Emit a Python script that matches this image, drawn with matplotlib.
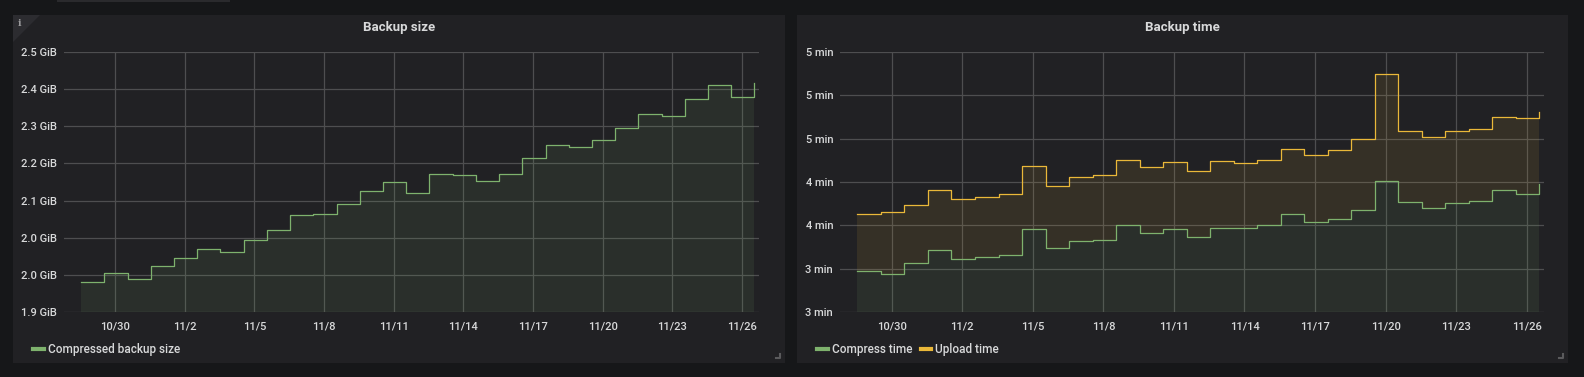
import math
import matplotlib
matplotlib.use("Agg")
import matplotlib.pyplot as plt
import matplotlib.dates as mdates
import pandas as pd
from matplotlib.lines import Line2D
from matplotlib.patches import Rectangle, Polygon
from matplotlib.ticker import FuncFormatter, FixedLocator

# one backup per day, around midday
days = pd.date_range("2018-10-28 13:00", periods=30, freq="D")

# compressed backup size in bytes (1e9)
size_gb = [2.080, 2.104, 2.089, 2.123, 2.145, 2.169, 2.162, 2.193, 2.222, 2.262,
           2.265, 2.291, 2.326, 2.349, 2.320, 2.371, 2.368, 2.353, 2.372, 2.415,
           2.450, 2.443, 2.464, 2.495, 2.533, 2.529, 2.573, 2.610, 2.580, 2.617]

# times in seconds
compress_s = [198.5, 196.7, 203.3, 210.6, 205.4, 206.7, 208.1, 223.1, 211.7, 216.0,
              216.5, 225.0, 220.4, 222.7, 218.3, 223.6, 223.3, 225.0, 231.4, 226.9,
              228.8, 233.9, 250.6, 238.5, 234.8, 237.7, 239.2, 245.6, 243.1, 248.7]
upload_s = [231.5, 232.9, 236.6, 245.4, 240.0, 241.4, 243.1, 259.4, 247.7, 252.9,
            254.2, 262.5, 258.7, 261.7, 256.4, 262.3, 261.0, 262.5, 269.2, 265.6,
            268.3, 275.0, 312.5, 279.4, 276.2, 279.2, 280.4, 287.5, 286.9, 290.2]

size_ticks = [2.0e9, 2.1e9, 2.2e9, 2.3e9, 2.4e9, 2.5e9, 2.6e9, 2.7e9]
time_ticks = [175, 200, 225, 250, 275, 300, 325]
date_ticks = pd.date_range("2018-10-30", "2018-11-26", freq="3D")

W, H = 1584, 377
bg = "#161719"
panel = "#212124"
grid = "#4e4e50"
txt = "#d8d9da"
green = "#7EB26D"
orange = "#EAB839"

plt.rcParams["font.family"] = ["Roboto", "DejaVu Sans"]
plt.rcParams["font.weight"] = 500

fig = plt.figure(figsize=(W / 100, H / 100), dpi=100, facecolor=bg)


def px(x0, y0, x1, y1):
    return [x0 / W, 1 - y1 / H, (x1 - x0) / W, (y1 - y0) / H]


# panels
for (x0, x1) in [(13, 785), (797, 1568)]:
    r = px(x0, 15, x1, 363)
    fig.patches.append(Rectangle((r[0], r[1]), r[2], r[3], transform=fig.transFigure,
                                 facecolor=panel, edgecolor="none", zorder=-10))
    # resize handle
    hx, hy = (x1 - 5) / W, 1 - (363 - 5) / H
    fig.lines.append(Line2D([hx - 4 / W, hx, hx], [hy, hy, hy + 4 / H],
                            transform=fig.transFigure, color="#5a5a5c", lw=1.5))
fig.patches.append(Rectangle((57 / W, 1 - 2 / H), 173 / W, 2 / H, transform=fig.transFigure,
                             facecolor="#2a2a2d", edgecolor="none", zorder=-10))
# info corner
fig.patches.append(Polygon([(13 / W, 1 - 15 / H), (40 / W, 1 - 15 / H), (13 / W, 1 - 42 / H)],
                           closed=True, transform=fig.transFigure, facecolor="#2c2c30",
                           edgecolor="none", zorder=-5))
fig.text(20 / W, 1 - 24 / H, "i", color="#9a9a9c", fontsize=7, fontweight="bold",
         ha="center", va="center", family="DejaVu Serif")

fig.text(399 / W, 1 - 28 / H, "Backup size", color=txt, fontsize=9.5, fontweight="bold",
         ha="center", va="center")
fig.text(1182.5 / W, 1 - 28 / H, "Backup time", color=txt, fontsize=9.5, fontweight="bold",
         ha="center", va="center")

ax1 = fig.add_axes(px(64, 52, 759, 312))
ax2 = fig.add_axes(px(840, 52, 1544, 312))

xmin = pd.Timestamp("2018-10-27 19:15")
xmax = pd.Timestamp("2018-11-26 17:40")

for ax in (ax1, ax2):
    ax.set_facecolor(panel)
    for s in ax.spines.values():
        s.set_visible(False)
    ax.grid(True, color=grid, lw=0.9)
    ax.set_axisbelow(True)
    ax.tick_params(length=0, colors=txt, labelsize=8)
    ax.tick_params(axis="x", pad=7)
    ax.tick_params(axis="y", pad=5)
    ax.xaxis.set_major_locator(FixedLocator(mdates.date2num(date_ticks)))
    ax.xaxis.set_major_formatter(mdates.DateFormatter("%-m/%-d"))
    ax.set_xlim(xmin, xmax)

# size panel
size_bytes = [v * 1e9 for v in size_gb]
ax1.fill_between(days, size_bytes, 0, step="post", color=green, alpha=0.1, lw=0)
ax1.step(days, size_bytes, where="post", color=green, lw=0.9)
ax1.set_ylim(size_ticks[0], size_ticks[-1])
ax1.yaxis.set_major_locator(FixedLocator(size_ticks))
ax1.yaxis.set_major_formatter(FuncFormatter(lambda v, p: f"{v / 2**30:.1f} GiB"))
ax1.legend(handles=[Line2D([], [], color=green, lw=3)], labels=["Compressed backup size"],
           loc="center left", bbox_to_anchor=(33 / W, 1 - 350 / H), bbox_transform=fig.transFigure,
           frameon=False, borderaxespad=0, borderpad=0, handlelength=0.9, handletextpad=0.35,
           fontsize=8.5, labelcolor=txt)

# time panel
ax2.fill_between(days, compress_s, upload_s, step="post", color=orange, alpha=0.1, lw=0)
ax2.fill_between(days, compress_s, 0, step="post", color=green, alpha=0.1, lw=0)
ax2.step(days, compress_s, where="post", color=green, lw=0.9)
ax2.step(days, upload_s, where="post", color=orange, lw=0.9)
ax2.set_ylim(time_ticks[0], time_ticks[-1])
ax2.yaxis.set_major_locator(FixedLocator(time_ticks))
ax2.yaxis.set_major_formatter(FuncFormatter(lambda v, p: f"{math.floor(v / 60 + 0.5)} min"))
ax2.legend(handles=[Line2D([], [], color=green, lw=3), Line2D([], [], color=orange, lw=3)],
           labels=["Compress time", "Upload time"], ncol=2,
           loc="center left", bbox_to_anchor=(817 / W, 1 - 350 / H), bbox_transform=fig.transFigure,
           frameon=False, borderaxespad=0, borderpad=0, handlelength=0.9, handletextpad=0.35,
           columnspacing=0.7, fontsize=8.5, labelcolor=txt)

fig.savefig("out.png", dpi=100, facecolor=bg)
